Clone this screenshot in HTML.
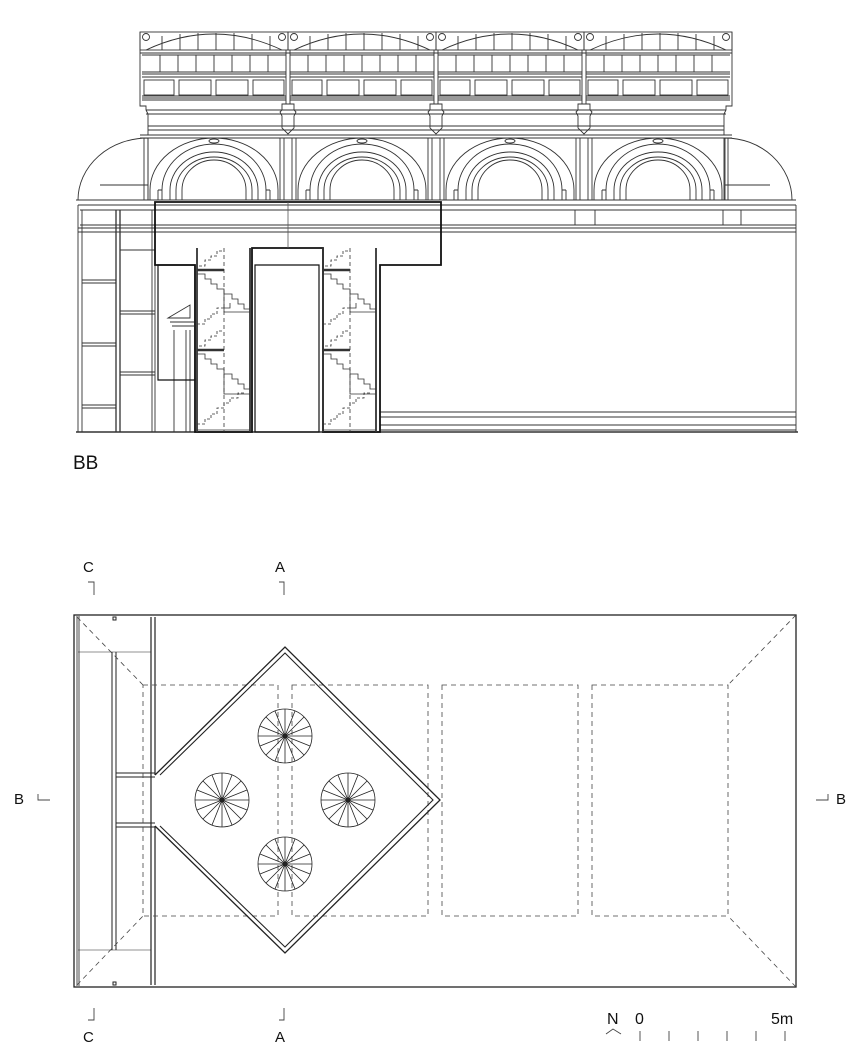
<!DOCTYPE html>
<html><head><meta charset="utf-8"><style>
html,body{margin:0;padding:0;background:#fff;}
svg{display:block;}
text{font-family:"Liberation Sans",Arial,sans-serif;fill:#111;}
</style></head><body>
<svg width="856" height="1061" viewBox="0 0 856 1061" xmlns="http://www.w3.org/2000/svg">
<defs>
<g id="bay" fill="none" stroke="#333" stroke-width="0.9">
  <rect x="0" y="32" width="148" height="18"/>
  <path d="M6 50 Q74 18 142 50"/>
  <path d="M22 36V50M40 34V50M58 33V50M76 33V50M94 33V50M112 34V50M130 36V50"/>
  <circle cx="6" cy="37" r="3.5"/><circle cx="142" cy="37" r="3.5"/>
  <path d="M0 53H148M2 55H146M2 72H146M2 74H146M2 77H146M2 96H146M2 98H146M2 100H146"/>
  <path d="M20 55V72M38 55V72M56 55V72M74 55V72M92 55V72M110 55V72M128 55V72"/>
  <rect x="4" y="80" width="30" height="15"/><rect x="39" y="80" width="32" height="15"/><rect x="76" y="80" width="32" height="15"/><rect x="113" y="80" width="31" height="15"/>
  <path d="M4 138V200M8 138V200M140 138V200M144 138V200"/>
  <path d="M10 200V190A64 52 0 0 1 138 190V200"/>
  <path d="M18 190V200M130 190V200M18 190H22M126 190H130"/>
  <path d="M22 200V190A52 46 0 0 1 126 190V200"/>
  <path d="M30 200V190A44 38 0 0 1 118 190V200"/>
  <path d="M36 200V190A38 33 0 0 1 112 190V200"/>
  <path d="M42 200V190A32 30 0 0 1 106 190V200"/>
  <ellipse cx="74" cy="141" rx="5" ry="2"/>
</g>
<g id="pil" fill="none" stroke="#333" stroke-width="0.9">
  <path d="M-2 50V104M2 50V104"/>
  <path d="M-6 104H6V110L8 112L6 116V128L0 134L-6 128V116L-8 112L-6 110Z"/>
</g>
<g id="stair" fill="none" stroke="#333" stroke-width="0.8">
  <path d="M0 0V184M53 0V184" stroke-width="1.8"/>
  <path d="M27 0V184" stroke-dasharray="4,3"/>
  <path d="M0 22H27M0 102H27" stroke-width="2.5"/>
  <path d="M2 18H8V12H14V8H20V3H27" stroke-dasharray="3,2"/>
  <path d="M0 26H8V31H14V36H20V41H27V46H35V51H41V56H47V61H53"/>
  <path d="M27 46V64H53"/>
  <path d="M0 76H8V71H14V66H20V60H27" stroke-dasharray="3,2"/>
  <path d="M27 60H33V55"/>
  <path d="M2 98H8V92H14V88H20V83H27" stroke-dasharray="3,2"/>
  <path d="M0 106H8V111H14V116H20V121H27V126H35V131H41V136H47V141H53"/>
  <path d="M27 126V146H53"/>
  <path d="M0 176H8V171H14V166H20V160H27V155H33V150H41V145H47" stroke-dasharray="3,2"/>
  <path d="M0 182H53" />
</g>
<g id="spiral" fill="none" stroke="#222" stroke-width="0.8">
  <circle r="27"/>
  <path d="M0 0L27 0M0 0L25 10M0 0L19 19M0 0L10 25M0 0L0 27M0 0L-10 25M0 0L-19 19M0 0L-25 10M0 0L-27 0M0 0L-25 -10M0 0L-19 -19M0 0L-10 -25M0 0L0 -27M0 0L10 -25M0 0L19 -19M0 0L25 -10"/>
  <circle r="2" fill="#222"/>
</g>
</defs>

<!-- SECTION BB -->
<use href="#bay" x="140"/><use href="#bay" x="288"/><use href="#bay" x="436"/><use href="#bay" x="584"/>
<use href="#pil" x="288"/><use href="#pil" x="436"/><use href="#pil" x="584"/>
<g fill="none" stroke="#333" stroke-width="0.9">
  <path d="M140 32V100M732 32V100"/>
  <path d="M140 100V106H146V110L148 114V135M732 100V106H726V110L724 114V135"/>
  <path d="M146 110H726M146 114H726M148 126H724M148 130H724M140 135H732M140 138H732"/>
  <path d="M148 138A70 62 0 0 0 78 200M148 138V200M725 138A67 62 0 0 1 792 200M725 138V200"/>
  <path d="M100 185H148M725 185H770"/>
  <path d="M76 200H796M78 205H796M80 210H796M80 225H796M78 228H796M78 232H796"/>
  <path d="M78 205V432M796 205V432M82 210V432"/>
  <path d="M575 210V225M595 210V225M723 210V225M741 210V225"/>
  <path d="M380 412H796M380 417H796M380 425H796M380 430H796"/>
  <path d="M76 432H798" stroke-width="1.4"/>
  <path d="M116 210V432M120 210V432" stroke-width="1.3"/>
  <path d="M82 280H116M82 283H116M82 343H116M82 346H116M82 405H116M82 408H116" />
  <path d="M120 250H155M120 311H155M120 314H155M120 372H155M120 375H155"/>
  <path d="M152 210V432M155 265V432"/>
  <path d="M168 318L190 305V318ZM170 322H194M172 326H194M174 330V432M186 330V432M190 330V432"/>
</g>
<g fill="none" stroke="#111" stroke-width="1.8">
  <path d="M155 202H441V265H380V432H323V248H252V432H195V265H155Z"/>
  <path d="M255 265H319V432H255Z" stroke-width="1.2"/>
  <path d="M158 265H195V380H158Z" stroke-width="1.2"/>
</g>
<path d="M288 202V248" stroke="#555" stroke-width="0.8"/>
<use href="#stair" x="197" y="248"/><use href="#stair" x="323" y="248"/>
<text x="73" y="469" font-size="19">BB</text>

<!-- PLAN -->
<g fill="none" stroke="#222" stroke-width="1">
  <rect x="74" y="615" width="722" height="372" stroke-width="1.3"/>
  <path d="M77 616V986M79 616V986" stroke-width="0.8"/>
  <path d="M151 617V985M155 617V775M155 826V985" stroke-width="1.2"/>
  <path d="M112 652V950M116 652V950" stroke-width="1"/>
  <path d="M78 652H151M78 950H151" stroke-width="0.6"/>
  <path d="M116 773H155M116 777H155M116 823H155M116 827H155" stroke-width="1"/>
  <rect x="113" y="617" width="3" height="3"/><rect x="113" y="982" width="3" height="3"/>
  <g stroke-dasharray="5,4" stroke="#444" stroke-width="0.8">
    <rect x="143" y="685" width="135" height="231"/>
    <rect x="292" y="685" width="136" height="231"/>
    <rect x="442" y="685" width="136" height="231"/>
    <rect x="592" y="685" width="136" height="231"/>
    <path d="M77 617L143 685M77 985L143 916M796 615L728 685M796 987L728 916"/>
  </g>
  <path d="M155 775L285 647L440 800L285 953L155 826" stroke-width="1.3"/>
  <path d="M160 775L285 653L433 800L285 947L160 826" stroke-width="1.1"/>
</g>
<g fill="#fff"><use href="#spiral" x="285" y="736"/><use href="#spiral" x="222" y="800"/><use href="#spiral" x="348" y="800"/><use href="#spiral" x="285" y="864"/></g>

<g stroke="#444" stroke-width="0.9" fill="none">
  <path d="M88 582H94V595M279 582H284V595"/>
  <path d="M94 1008V1020H88M284 1008V1020H279"/>
  <path d="M38 794V800H50M828 794V800H816"/>
  <path d="M606 1034L613 1029L621 1034"/>
  <path d="M640 1031V1041M669 1031V1041M698 1031V1041M727 1031V1041M756 1031V1041M785 1031V1041"/>
</g>
<text x="83" y="572" font-size="15">C</text>
<text x="275" y="572" font-size="15">A</text>
<text x="83" y="1042" font-size="15">C</text>
<text x="275" y="1042" font-size="15">A</text>
<text x="14" y="804" font-size="15">B</text>
<text x="836" y="804" font-size="15">B</text>
<text x="607" y="1024" font-size="16">N</text>
<text x="635" y="1024" font-size="16">0</text>
<text x="771" y="1024" font-size="16">5m</text>
</svg>
</body></html>
